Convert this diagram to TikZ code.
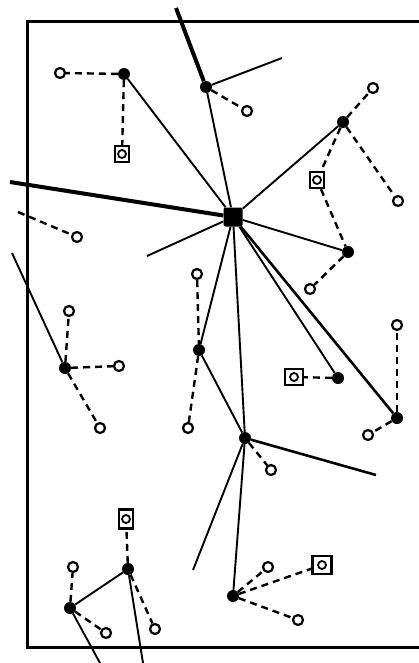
\documentclass[tikz,border=0pt]{standalone}
\usepackage{xcolor}
\usepackage{tikz}
\usetikzlibrary{positioning,calc}

\begin{document}
\begin{tikzpicture}[
  x=1pt, y=-1pt,
  hub/.style   ={circle, fill=black, inner sep=0pt, minimum size=12pt},
  bighub/.style={rectangle, fill=black, rounded corners=2pt, inner sep=0pt,
                 minimum size=19pt},
  pin/.style   ={circle, draw, line width=2.2pt, fill=white, inner sep=0pt,
                 minimum size=10pt},
  boxpin/.style={rectangle, draw, line width=2.4pt, fill=white, inner sep=0pt,
                 minimum width=14pt, minimum height=16pt,
                 path picture={\draw[line width=1.8pt]
                   (path picture bounding box.center) circle (4pt);}},
  tie/.style   ={line width=1.9pt},
  trunk/.style ={line width=4pt},
  link/.style  ={line width=2.4pt, dash pattern=on 7pt off 5pt},
  frame/.style ={line width=3pt}
]
  \useasboundingbox (0,0) rectangle (419,663);
  \draw[frame] (419,22) -| (27,647) -- (419,647);

  % hubs
  \node[bighub] (c)   at (233,217) {};
  \node[hub]    (t)   at (206,87)  {};
  \node[hub]    (tl)  at (124,74)  {};
  \node[hub]    (ne)  at (343,122) {};
  \node[hub]    (e)   at (348,252) {};
  \node[hub]    (m)   at (199,350) {};
  \node[hub]    (l)   at (65,368)  {};
  \node[hub]    (s)   at (338,378) {};
  \node[hub]    (r)   at (397,418) {};
  \node[hub]    (h)   at (245,438) {};
  \node[hub]    (b)   at (233,596) {};
  \node[hub]    (bl1) at (128,569) {};
  \node[hub]    (bl2) at (70,608)  {};

  % open ends
  \node[pin]    (p1)  at (60,73)   {};
  \node[boxpin] (bx1) at (122,154) {};
  \node[pin]    (p2)  at (247,111) {};
  \node[pin]    (p3)  at (373,88)  {};
  \node[pin]    (p4)  at (398,201) {};
  \node[boxpin] (bx2) at (317,180) {};
  \node[pin]    (p5)  at (310,289) {};
  \node[pin]    (p6)  at (77,237)  {};
  \node[pin]    (p7)  at (69,311)  {};
  \node[pin]    (p8)  at (119,366) {};
  \node[pin]    (p9)  at (100,428) {};
  \node[pin]    (p10) at (197,274) {};
  \node[pin]    (p11) at (188,428) {};
  \node[boxpin, minimum width=18pt, minimum height=16pt] (bx3) at (294,377) {};
  \node[pin]    (p12) at (397,325) {};
  \node[pin]    (p13) at (368,435) {};
  \node[pin]    (p14) at (271,470) {};
  \node[pin]    (p15) at (268,567) {};
  \node[pin]    (p16) at (298,620) {};
  \node[boxpin, minimum width=19pt, minimum height=18pt] (bx4) at (322,565) {};
  \node[boxpin, minimum height=19pt] (bx5) at (126,519) {};
  \node[pin]    (p17) at (155,629) {};
  \node[pin]    (p18) at (73,567)  {};
  \node[pin]    (p19) at (106,633) {};

  % loose ends
  \coordinate (topend)   at (176,8);
  \coordinate (leftend)  at (10,182);
  \coordinate (tend)     at (282,58);
  \coordinate (cend)     at (147,256);
  \coordinate (lend)     at (12,253);
  \coordinate (dashend)  at (18,212);
  \coordinate (hend)     at (376,475);
  \coordinate (hend2)    at (193,570);
  \coordinate (bl1end)   at (143,663);
  \coordinate (bl2end)   at (100,663);

  % main lines
  \draw[trunk] (topend)  -- (t);
  \draw[trunk] (leftend) -- (c);
  \draw[tie] (t) -- (tend);
  \draw[tie] (t)  -- (c);
  \draw[tie] (tl) -- (c);
  \draw[tie] (ne) -- (c);
  \draw[tie] (c)  -- (cend);
  \draw[tie] (c)  -- (e);
  \draw[tie] (c)  -- (m);
  \draw[tie] (c)  -- (h);
  \draw[tie] (c)  -- (s);
  \draw[tie, line width=2.6pt] (c) -- (r);
  \draw[tie] (m)  -- (h);
  \draw[tie] (lend) -- (l);
  \draw[tie, line width=2.6pt] (h) -- (hend);
  \draw[tie] (h)  -- (hend2);
  \draw[tie] (h)  -- (b);
  \draw[tie] (bl1) -- (bl2);
  \draw[tie] (bl1) -- (bl1end);
  \draw[tie] (bl2) -- (bl2end);

  % dashed links
  \draw[link] (tl) -- (p1);
  \draw[link] (tl) -- (bx1);
  \draw[link] (t)  -- (p2);
  \draw[link] (ne) -- (p3);
  \draw[link] (ne) -- (p4);
  \draw[link] (ne) -- (bx2);
  \draw[link] (bx2) -- (e);
  \draw[link] (e)  -- (p5);
  \draw[link] (dashend) -- (p6);
  \draw[link] (l)  -- (p7);
  \draw[link] (l)  -- (p8);
  \draw[link] (l)  -- (p9);
  \draw[link] (p10) -- (m);
  \draw[link] (m)  -- (p11);
  \draw[link] (s)  -- (bx3);
  \draw[link] (r)  -- (p12);
  \draw[link] (r)  -- (p13);
  \draw[link] (h)  -- (p14);
  \draw[link] (b)  -- (p15);
  \draw[link] (b)  -- (p16);
  \draw[link] (b)  -- (bx4);
  \draw[link] (bl1) -- (bx5);
  \draw[link] (bl1) -- (p17);
  \draw[link] (bl2) -- (p18);
  \draw[link] (bl2) -- (p19);
\end{tikzpicture}
\end{document}
